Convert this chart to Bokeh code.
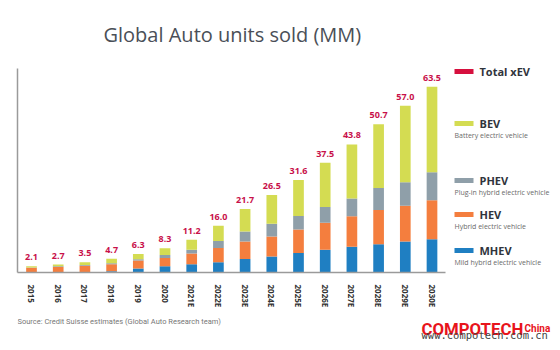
from bokeh.plotting import figure
from bokeh.layouts import column
from bokeh.models import ColumnDataSource, Range1d, Label, BoxAnnotation, FixedTicker
from bokeh.core.properties import value
from bokeh.embed import file_html
from bokeh.resources import INLINE

categories = ["2015", "2016", "2017", "2018", "2019", "2020", "2021E", "2022E",
              "2023E", "2024E", "2025E", "2026E", "2027E", "2028E", "2029E", "2030E"]
total_xev = [2.1, 2.7, 3.5, 4.7, 6.3, 8.3, 11.2, 16.0, 21.7, 26.5, 31.6, 37.5, 43.8, 50.7, 57.0, 63.5]
mhev = [0.0, 0.0, 0.1, 0.4, 1.4, 2.1, 2.8, 3.5, 4.6, 5.5, 6.7, 7.8, 8.8, 9.7, 10.6, 11.4]
hev = [1.6, 1.9, 2.2, 2.4, 2.7, 2.9, 3.7, 4.9, 6.0, 6.8, 8.0, 9.2, 10.4, 11.7, 12.2, 13.3]
phev = [0.1, 0.2, 0.3, 0.4, 0.4, 1.0, 1.3, 2.4, 3.4, 4.4, 4.6, 5.4, 6.1, 7.5, 8.1, 9.6]
bev = [0.4, 0.6, 0.9, 1.5, 1.8, 2.3, 3.4, 5.2, 7.7, 9.8, 12.3, 15.1, 18.5, 21.8, 26.1, 29.2]

series = ["mhev", "hev", "phev", "bev"]
colors = ["#1f7fc2", "#f47e3e", "#8f9fa9", "#d4dc52"]

W = 560
MAIN_H = 310
FOOT_H = 350 - MAIN_H
FL, FB = 17, 274          # frame left / bottom in canvas px
PX_PER_UNIT = 2.945       # vertical scale
BAR_STEP = 26.7           # horizontal px per category
X0 = 31                   # px centre of first bar

xs = list(range(len(categories)))
source = ColumnDataSource(dict(
    x=xs, mhev=mhev, hev=hev, phev=phev, bev=bev,
    total=total_xev, label=["%.1f" % t for t in total_xev],
))

x_start = -(X0 - FL) / BAR_STEP
p = figure(width=W, height=MAIN_H, output_backend="svg", toolbar_location=None,
           x_range=Range1d(x_start, x_start + (W - FL) / BAR_STEP),
           y_range=Range1d(0, FB / PX_PER_UNIT),
           min_border_left=FL, min_border_right=0,
           min_border_top=0, min_border_bottom=MAIN_H - FB)
p.outline_line_color = None
p.grid.grid_line_color = None
p.background_fill_color = "white"
p.border_fill_color = "white"

p.vbar_stack(series, x="x", width=0.4, color=colors, source=source, line_color=None)
p.text(x="x", y="total", text="label", source=source, y_offset=-6,
       text_align="center", text_baseline="bottom", text_font=value("Open Sans"),
       text_font_style="bold", text_font_size="9px", text_color="#c8104a")

# axes
p.xaxis.ticker = FixedTicker(ticks=xs)
p.xaxis.major_label_overrides = {i: c for i, c in zip(xs, categories)}
p.xaxis.bounds = (x_start, x_start + (445 - FL) / BAR_STEP)
p.xaxis.axis_line_color = "#9a9a9a"
p.xaxis.axis_line_width = 1.5
p.xaxis.major_tick_line_color = None
p.xaxis.minor_tick_line_color = None
p.xaxis.major_label_orientation = "vertical"
p.xaxis.major_label_text_font = "Open Sans"
p.xaxis.major_label_text_font_style = "bold"
p.xaxis.major_label_text_font_size = "8px"
p.xaxis.major_label_text_color = "#333333"
p.xaxis.major_label_standoff = 6

p.yaxis.ticker = FixedTicker(ticks=[])
p.yaxis.bounds = (0, (FB - 68) / PX_PER_UNIT)
p.yaxis.axis_line_color = "#9a9a9a"
p.yaxis.axis_line_width = 1.5
p.yaxis.major_tick_line_color = None
p.yaxis.minor_tick_line_color = None
p.yaxis.major_label_text_font_size = "0px"


def add_label(fig, bottom, x, y, text, size, color, style="normal", font="Open Sans",
              baseline="middle", align="left", left=FL):
    fig.add_layout(Label(x=x - left, y=bottom - y, x_units="screen", y_units="screen",
                         text=text, text_font=font, text_font_size=size,
                         text_color=color, text_font_style=style,
                         text_baseline=baseline, text_align=align))


# title
add_label(p, FB, 103, 36, "Global Auto units sold (MM)", "20px", "#4a4f57", baseline="alphabetic")

# legend
legend_items = [
    ("Total xEV", None, "#d6103e", 73),
    ("BEV", "Battery electric vehicle", colors[3], 125),
    ("PHEV", "Plug-in hybrid electric vehicle", colors[2], 182),
    ("HEV", "Hybrid electric vehicle", colors[1], 216),
    ("MHEV", "Mild hybrid electric vehicle", colors[0], 252),
]
for name, sub, col, yc in legend_items:
    p.add_layout(BoxAnnotation(left=454 - FL, right=473 - FL,
                               top=FB - (yc - 2.5), bottom=FB - (yc + 2.5),
                               left_units="screen", right_units="screen",
                               top_units="screen", bottom_units="screen",
                               fill_color=col, fill_alpha=1.0, line_color=None))
    add_label(p, FB, 479, yc, name, "11px", "#30343c", style="bold")
    if sub:
        add_label(p, FB, 454, yc + 12, sub, "7px", "#6a6a6a")

# footer figure (source + watermark); its frame is aligned with the main frame (x = FL)
f = figure(width=W, height=FOOT_H, output_backend="svg", toolbar_location=None,
           x_range=Range1d(0, 1), y_range=Range1d(0, 1),
           x_axis_location=None, y_axis_location=None,
           min_border_left=FL, min_border_right=0, min_border_top=0, min_border_bottom=0)
f.grid.grid_line_color = None
f.outline_line_color = None
f.background_fill_color = "white"
f.border_fill_color = "white"

add_label(f, 350, 17, 321, "Source: Credit Suisse estimates (Global Auto Research team)",
          "7.5px", "#777777", font="Roboto")
add_label(f, 350, 421, 328, "COMPOTECH", "16.8px", "#e8141c", style="bold",
          font="Roboto", baseline="alphabetic")
add_label(f, 350, 524, 328, "China", "10px", "#e8141c", style="bold",
          font="Roboto", baseline="alphabetic")
add_label(f, 350, 421, 334, "www.compotech.com.cn", "10.5px", "#444444",
          font="DejaVu Sans Mono")

layout = column(p, f, spacing=0)
open("out.html", "w").write(file_html(layout, INLINE))
